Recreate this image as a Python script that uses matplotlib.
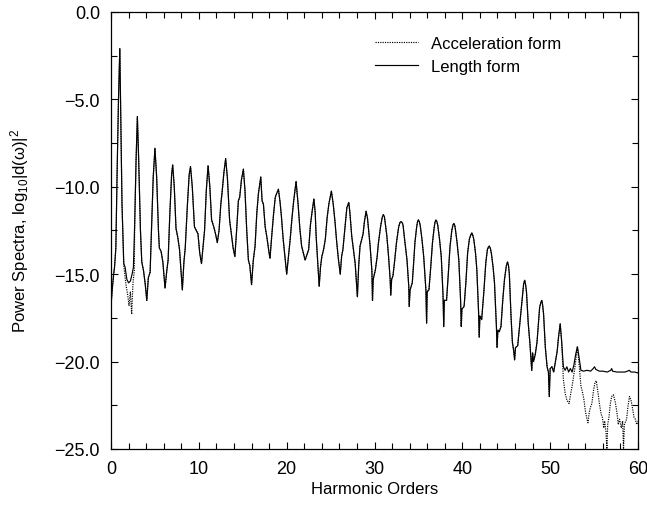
import numpy as np
import matplotlib
matplotlib.use("Agg")
import matplotlib.pyplot as plt
from matplotlib.ticker import MultipleLocator, FuncFormatter

# ---------------- data ----------------
length_orders = [
    0.0, 0.15, 0.3, 0.4, 0.55, 0.7, 0.85, 1.0, 1.1, 1.25, 1.45, 1.6, 1.8, 2.0, 2.2, 2.4, 2.55, 2.7, 2.85,
    3.0, 3.15, 3.35, 3.5, 3.7, 3.9, 4.07, 4.25, 4.45, 4.6, 4.8,
    5.0, 5.2, 5.4, 5.5, 5.7, 5.9, 6.15, 6.35, 6.5, 6.7, 6.9,
    7.02, 7.2, 7.4, 7.6, 7.8, 8.0, 8.12, 8.3, 8.45, 8.7, 8.9,
    9.05, 9.25, 9.5, 9.7, 9.9, 10.1, 10.3, 10.5, 10.65, 10.85,
    11.05, 11.25, 11.45, 11.7, 11.9, 12.1, 12.3, 12.5, 12.65, 12.85,
    13.05, 13.25, 13.5, 13.7, 13.9, 14.1, 14.3, 14.5, 14.65, 14.85,
    15.07, 15.25, 15.45, 15.64, 15.8, 16.0, 16.2, 16.4, 16.6, 16.78,
    17.05, 17.2, 17.35, 17.55, 17.75, 18.0, 18.1, 18.3, 18.5, 18.7, 18.85,
    19.06, 19.25, 19.4, 19.6, 19.8, 20.0, 20.2, 20.4, 20.6, 20.8,
    21.07, 21.3, 21.5, 21.7, 21.9, 22.1, 22.3, 22.5, 22.7, 22.9,
    23.1, 23.25, 23.35, 23.55, 23.7, 23.85, 24.0, 24.2, 24.4, 24.6, 24.8,
    25.09, 25.3, 25.5, 25.7, 25.9, 26.1, 26.25, 26.4, 26.65, 26.85,
    27.07, 27.2, 27.4, 27.6, 27.8, 28.05, 28.2, 28.35, 28.55, 28.7, 28.85,
    29.04, 29.2, 29.5, 29.7, 29.77, 29.85, 30.1, 30.3, 30.45, 30.7, 30.88,
    31.0, 31.12, 31.2, 31.4, 31.6, 31.78, 31.85, 31.95, 32.1, 32.3, 32.5, 32.75, 32.9,
    33.0, 33.15, 33.25, 33.4, 33.7, 33.9, 33.95, 34.05, 34.3, 34.45, 34.6, 34.8, 34.9,
    35.0, 35.1, 35.2, 35.4, 35.6, 35.85, 35.93, 36.0, 36.2, 36.4, 36.6, 36.8, 36.9,
    37.0, 37.1, 37.2, 37.4, 37.6, 37.8, 37.88, 37.95, 38.2, 38.4, 38.6, 38.8, 38.93,
    39.03, 39.13, 39.2, 39.4, 39.6, 39.8, 39.88, 39.95, 40.2, 40.4, 40.6, 40.8, 40.97,
    41.08, 41.2, 41.3, 41.5, 41.65, 41.85, 41.92, 42.0, 42.2, 42.45, 42.67, 42.85, 42.97,
    43.08, 43.2, 43.3, 43.5, 43.66, 43.88, 43.95, 44.05, 44.2, 44.4, 44.6, 44.8, 45.0,
    45.14, 45.25, 45.35, 45.55, 45.7, 45.85, 45.95, 46.05, 46.3, 46.55, 46.8, 46.98,
    47.1, 47.2, 47.3, 47.5, 47.7, 47.9, 48.0, 48.1, 48.3, 48.5, 48.8, 48.95,
    49.05, 49.15, 49.25, 49.45, 49.65, 49.8, 49.9, 50.0, 50.2, 50.4, 50.6, 50.8, 50.95,
    51.14, 51.3, 51.5, 51.7, 51.9, 52.1, 52.3, 52.5, 52.7, 52.9,
    53.1, 53.3, 53.5, 53.8, 54.2, 54.6, 54.9, 55.05, 55.2, 55.6, 56.0, 56.5,
    56.9, 57.0, 57.1, 57.6, 58.0, 58.5, 58.8, 59.0, 59.2, 59.6, 60.0,
]
length_values = [
    -16.8, -15.8, -15.0, -14.6, -13.5, -9.0, -5.0, -2.1, -5.5, -11.0, -14.4, -14.6, -15.3, -15.5, -15.4, -15.0, -14.6, -12.0, -8.5,
    -6.0, -8.5, -12.5, -14.3, -14.8, -15.6, -16.5, -15.2, -14.9, -12.5, -9.5,
    -7.8, -9.5, -12.5, -13.5, -13.7, -14.3, -15.8, -14.8, -14.2, -11.5, -9.3,
    -8.75, -10.0, -12.4, -12.9, -13.6, -15.0, -15.9, -14.3, -13.5, -11.0, -9.3,
    -8.85, -10.0, -12.3, -12.5, -12.7, -13.8, -14.4, -13.3, -12.5, -10.2,
    -8.8, -10.0, -11.9, -12.3, -12.7, -13.2, -12.5, -11.0, -10.3, -9.2,
    -8.4, -9.5, -11.9, -12.7, -13.5, -14.0, -12.5, -10.8, -10.6, -9.6,
    -9.0, -10.2, -12.5, -14.2, -14.5, -15.6, -14.2, -13.4, -11.5, -10.4,
    -9.45, -10.8, -11.0, -12.3, -12.9, -13.8, -14.1, -12.8, -11.6, -10.6, -10.4,
    -10.15, -10.9, -11.7, -13.0, -14.0, -15.0, -14.0, -13.0, -11.8, -10.8,
    -9.7, -11.0, -12.4, -13.4, -13.8, -14.2, -13.9, -13.6, -12.2, -11.4,
    -10.7, -11.5, -12.8, -14.5, -15.7, -14.6, -14.0, -13.6, -13.0, -11.8, -11.0,
    -10.25, -11.0, -12.0, -13.2, -14.2, -15.0, -14.0, -13.6, -12.3, -11.2,
    -10.9, -11.5, -12.8, -13.6, -14.4, -16.3, -14.5, -13.4, -13.0, -12.7, -12.0,
    -11.4, -11.8, -13.4, -14.8, -16.5, -15.3, -14.75, -14.0, -13.2, -12.25, -11.75,
    -11.6, -11.7, -12.0, -12.8, -14.0, -15.3, -16.2, -15.3, -15.1, -14.2, -13.2, -12.3, -12.05,
    -12.0, -12.05, -12.2, -12.9, -14.2, -15.7, -16.85, -15.9, -15.5, -14.4, -13.2, -12.3, -12.0,
    -11.9, -12.0, -12.2, -13.0, -14.0, -15.9, -17.8, -16.0, -15.9, -14.6, -13.2, -12.3, -12.0,
    -11.9, -12.0, -12.2, -13.0, -14.0, -16.2, -18.0, -16.5, -16.5, -15.0, -13.4, -12.5, -12.2,
    -12.1, -12.2, -12.4, -13.2, -14.2, -16.5, -18.0, -17.0, -16.85, -15.5, -13.8, -13.0, -12.75,
    -12.65, -12.8, -13.0, -13.8, -14.75, -17.2, -18.6, -17.4, -17.6, -16.0, -14.35, -13.6, -13.45,
    -13.4, -13.55, -13.8, -14.6, -15.5, -18.0, -19.2, -18.2, -18.3, -18.0, -16.5, -15.3, -14.55,
    -14.3, -14.5, -15.0, -17.5, -18.9, -19.4, -19.9, -19.2, -19.1, -17.8, -16.5, -15.55,
    -15.35, -15.6, -16.0, -17.8, -19.0, -20.5, -19.5, -20.0, -19.6, -18.9, -16.9, -16.6,
    -16.5, -16.8, -17.3, -19.2, -20.3, -20.6, -22.0, -20.4, -20.3, -20.6, -20.0, -19.4, -18.6,
    -17.85, -18.8, -20.3, -20.5, -20.3, -20.6, -20.4, -20.6, -20.2, -19.6,
    -19.15, -19.8, -20.5, -20.55, -20.5, -20.55, -20.4, -20.3, -20.45, -20.55, -20.55, -20.6,
    -20.5, -20.4, -20.55, -20.6, -20.6, -20.6, -20.55, -20.5, -20.6, -20.6, -20.65,
]

# acceleration form: deviates from the length form between orders 1 and 3 and above order 51
accel_dip_orders = [1.25, 1.45, 1.7, 1.9, 2.05, 2.2, 2.35, 2.5, 2.65]
accel_dip_values = [-11.0, -14.5, -15.6, -16.2, -16.8, -16.0, -17.3, -15.5, -14.8]
accel_tail_orders = [
    51.3, 51.5, 51.7, 51.9, 52.15, 52.35, 52.5, 52.8, 53.1, 53.3, 53.5, 53.7, 53.85,
    54.0, 54.15, 54.3, 54.45, 54.6, 54.75, 54.95, 55.1, 55.25, 55.45, 55.6, 55.8, 55.95,
    56.1, 56.2, 56.35, 56.46, 56.55, 56.7, 56.85, 57.0, 57.2, 57.4, 57.6, 57.75, 57.9,
    58.1, 58.25, 58.35, 58.45, 58.7, 58.85, 59.03, 59.2, 59.35, 59.55, 59.7, 59.85, 60.0,
]
accel_tail_values = [
    -18.8, -21.0, -21.8, -22.2, -22.4, -21.8, -21.4, -20.4, -19.15, -20.2, -21.4, -21.8, -22.2,
    -22.8, -23.2, -23.5, -22.9, -22.6, -22.4, -21.6, -21.2, -21.1, -21.8, -22.4, -23.0, -23.2,
    -23.8, -23.4, -24.0, -25.0, -23.6, -23.15, -22.4, -22.0, -21.9, -22.3, -22.9, -23.6, -23.3,
    -23.8, -23.4, -25.0, -23.6, -23.3, -22.6, -22.0, -22.2, -22.6, -23.2, -23.3, -23.6, -23.4,
]

x_ticks = [0, 10, 20, 30, 40, 50, 60]
y_ticks = [0.0, -5.0, -10.0, -15.0, -20.0, -25.0]

# ---------------- build the acceleration series ----------------
lo = np.array(length_orders)
lv = np.array(length_values)
head = lo < accel_dip_orders[0]
mid = (lo > accel_dip_orders[-1]) & (lo < accel_tail_orders[0])
accel_orders = np.concatenate([lo[head], accel_dip_orders, lo[mid], accel_tail_orders])
accel_values = np.concatenate([lv[head], accel_dip_values, lv[mid], accel_tail_values])

# ---------------- style ----------------
plt.rcParams["font.family"] = ["Liberation Sans", "DejaVu Sans"]
plt.rcParams["mathtext.fontset"] = "custom"
plt.rcParams["mathtext.rm"] = "Liberation Sans"
plt.rcParams["mathtext.it"] = "Liberation Sans:italic"
plt.rcParams["mathtext.bf"] = "Liberation Sans:bold"

fig = plt.figure(figsize=(6.47, 5.06), dpi=100)
ax = fig.add_axes([0.1716, 0.1107, 0.8145, 0.864])

ax.plot(accel_orders, accel_values, color="black", lw=0.85, linestyle=(0, (1.0, 1.0)),
        label="Acceleration form")
ax.plot(lo, lv, color="black", lw=0.85, label="Length form")

ax.set_xlim(0, 60)
ax.set_ylim(-25, 0)
ax.set_xticks(x_ticks)
ax.set_yticks(y_ticks)
ax.xaxis.set_minor_locator(MultipleLocator(2))
ax.yaxis.set_minor_locator(MultipleLocator(2.5))
ax.yaxis.set_major_formatter(FuncFormatter(lambda v, p: f"{v:.1f}".replace("-", "\u2212")))
ax.tick_params(which="both", direction="in", top=True, right=True, labelsize=13, width=0.8)
ax.tick_params(which="major", length=5, pad=8)
ax.tick_params(which="minor", length=4)
for s in ax.spines.values():
    s.set_linewidth(0.9)

ax.set_xlabel("Harmonic Orders", fontsize=12, labelpad=3)
ax.set_ylabel(r"Power Spectra, log$_{10}$|d(ω)|$^{2}$", fontsize=12, labelpad=17)

ax.legend(loc="upper left", bbox_to_anchor=(0.50, 0.944), frameon=False, fontsize=12,
          handlelength=2.6, handletextpad=0.8, borderpad=0, borderaxespad=0,
          labelspacing=0.45)

fig.savefig("out.png", dpi=100)
